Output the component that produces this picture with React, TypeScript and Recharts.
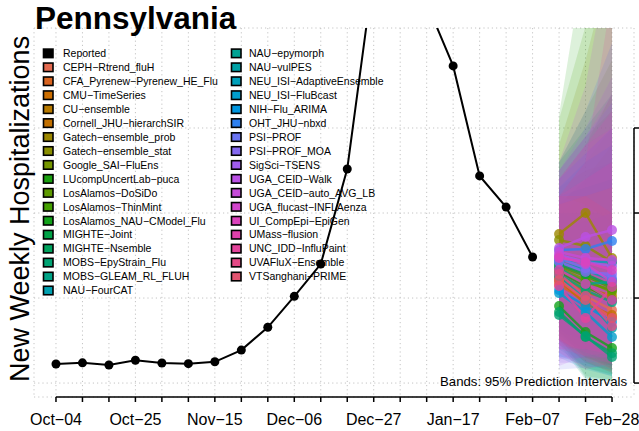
import React from 'react';
import { ComposedChart, Line, Area, XAxis, YAxis, CartesianGrid, ReferenceLine } from 'recharts';

const FONT = '"Liberation Sans", Arial, Helvetica, sans-serif';

const weeks = [
  'Oct−04', 'Oct−11', 'Oct−18', 'Oct−25', 'Nov−01', 'Nov−08', 'Nov−15', 'Nov−22', 'Nov−29',
  'Dec−06', 'Dec−13', 'Dec−20', 'Dec−27', 'Jan−03', 'Jan−10', 'Jan−17', 'Jan−24', 'Jan−31',
  'Feb−07', 'Feb−14', 'Feb−21', 'Feb−28',
];

const reported = [112, 119, 106, 134, 118, 114, 125, 194, 328, 510, 700, 1259, 2420, 2750, 2235, 1865, 1218, 1035, 741];

const models = [
  'CEPH−Rtrend_fluH', 'CFA_Pyrenew−Pyrenew_HE_Flu', 'CMU−TimeSeries', 'CU−ensemble',
  'Cornell_JHU−hierarchSIR', 'Gatech−ensemble_prob', 'Gatech−ensemble_stat', 'Google_SAI−FluEns',
  'LUcompUncertLab−puca', 'LosAlamos−DoSiDo', 'LosAlamos−ThinMint', 'LosAlamos_NAU−CModel_Flu',
  'MIGHTE−Joint', 'MIGHTE−Nsemble', 'MOBS−EpyStrain_Flu', 'MOBS−GLEAM_RL_FLUH', 'NAU−FourCAT',
  'NAU−epymorph', 'NAU−vulPES', 'NEU_ISI−AdaptiveEnsemble', 'NEU_ISI−FluBcast', 'NIH−Flu_ARIMA',
  'OHT_JHU−nbxd', 'PSI−PROF', 'PSI−PROF_MOA', 'SigSci−TSENS', 'UGA_CEID−Walk',
  'UGA_CEID−auto_AVG_LB', 'UGA_flucast−INFLAenza', 'UI_CompEpi−EpiGen', 'UMass−flusion',
  'UNC_IDD−InfluPaint', 'UVAFluX−Ensemble', 'VTSanghani−PRIME',
];

const palette = [
  '#E36A50', '#D96420', '#CC6E00', '#B87A00', '#C27000', '#9C8700', '#8A8F00', '#769700',
  '#1AA010', '#5E9A00', '#44A000', '#12A21A', '#00A347', '#00A35E', '#00A373', '#00A386',
  '#00A0B0', '#00A293', '#00A1A6', '#00A0BA', '#009DCC', '#0096DF', '#2E80F0', '#6A74F2',
  '#8468F0', '#A05CEE', '#BA50E4', '#C64BD9', '#D245CC', '#DB42BC', '#E140AC', '#E3449A',
  '#E44A86', '#E25470',
];

const forecastWeeks = [19, 20, 21];

const medianH1 = [594, 576, 618, 629, 606, 876, 841, 676, 653, 665, 688, 453, 700, 418, 400, 641, 712, 676, 629, 724, 529, 547, 782, 735, 712, 753, 794, 771, 747, 735, 665, 571, 641, 606];
const medianH2 = [512, 488, 535, 559, 465, 1000, 806, 606, 571, 594, 629, 300, 641, 271, 276, 547, 665, 582, 500, 712, 418, 453, 788, 676, 653, 712, 859, 735, 700, 712, 582, 382, 512, 488];
const medianH3 = [429, 382, 488, 512, 400, 735, 712, 535, 488, 547, 559, 206, 571, 176, 153, 476, 606, 594, 324, 712, 271, 359, 835, 618, 641, 688, 900, 724, 594, 665, 488, 565, 335, 382];

const lowerH1 = [300, 280, 350, 300, 250, 450, 500, 260, 230, 300, 260, 280, 320, 250, 230, 250, 350, 280, 200, 300, 150, 160, 150, 80, 120, 140, 100, 200, 250, 220, 200, 180, 250, 260];
const lowerH2 = [200, 160, 250, 180, 120, 400, 420, 120, 90, 150, 150, 40, 200, 30, 20, 150, 250, 160, 90, 250, 80, 100, 150, 90, 120, 150, 160, 200, 180, 200, 160, 80, 130, 150];
const lowerH3 = [120, 80, 180, 100, 60, 250, 320, 70, 50, 90, 100, 20, 150, 15, 10, 100, 200, 120, 40, 200, 40, 80, 150, 100, 130, 150, 180, 170, 130, 160, 110, 120, 60, 80];

const upperH1 = [1000, 950, 1050, 1100, 1150, 1400, 1250, 1300, 1576, 1200, 1550, 1000, 1300, 900, 850, 1100, 1200, 1150, 1100, 1150, 1000, 900, 1300, 1250, 1200, 1250, 1300, 1250, 1200, 1200, 1100, 1100, 1100, 1050];
const upperH2 = [1100, 1050, 1200, 1300, 1250, 1900, 1450, 1600, 2540, 1400, 2100, 1000, 1500, 800, 750, 1150, 1350, 1300, 1050, 1300, 950, 950, 1600, 1450, 1350, 1500, 1750, 1450, 1400, 1400, 1200, 1300, 1100, 1100];
const upperH3 = [1200, 1150, 1400, 1500, 1300, 2500, 1600, 1900, 3300, 1700, 2900, 1000, 1700, 750, 700, 1200, 1500, 1400, 950, 1400, 850, 1000, 2000, 1650, 1500, 1800, 2600, 1700, 1500, 1600, 1300, 2300, 1000, 1150];

const Y_MIN = -82;
const Y_MAX = 2088;
const X_MIN = -0.83;
const X_MAX = 21.83;
const yTicks = [0, 500, 1000, 1500];

const reportedRows = reported.map((v, i) => ({ x: i, value: v }));
const med = [medianH1, medianH2, medianH3];
const lo = [lowerH1, lowerH2, lowerH3];
const hi = [upperH1, upperH2, upperH3];
const modelRows = models.map((_, m) =>
  forecastWeeks.map((x, h) => ({ x, med: med[h][m], band: [lo[h][m], hi[h][m]] }))
);

const ROW0 = 53.3;
const ROW_STEP = 13.95;
const col1 = [{ name: 'Reported', color: '#000000' }].concat(
  models.slice(0, 17).map((n, i) => ({ name: n, color: palette[i] }))
);
const col2 = models.slice(17).map((n, i) => ({ name: n, color: palette[i + 17] }));

function LegendColumn({ items, boxX, textX }: { items: { name: string; color: string }[]; boxX: number; textX: number }) {
  return (
    <g>
      {items.map((it, i) => {
        const cy = ROW0 + i * ROW_STEP;
        return (
          <g key={it.name}>
            <rect x={boxX} y={cy - 4.2} width={9.5} height={8.5} fill={it.color} stroke="#000" strokeWidth={1.6} />
            <text x={textX} y={cy + 3.8} fontSize={10.5} fontFamily={FONT} fill="#000">
              {it.name}
            </text>
          </g>
        );
      })}
    </g>
  );
}

const EmptyTick = () => <g />;

export default function App() {
  return (
    <div style={{ position: 'absolute', left: 0, top: 0, width: 639, height: 431, background: '#fff', overflow: 'hidden' }}>
      <ComposedChart width={639} height={431} margin={{ top: 28, right: 0, bottom: 0, left: 34 }}>
        <CartesianGrid stroke="#c4c4c4" strokeDasharray="1.2 3" strokeWidth={1} />
        <XAxis
          type="number"
          dataKey="x"
          domain={[X_MIN, X_MAX]}
          allowDataOverflow
          ticks={weeks.map((_, i) => i)}
          interval={0}
          tickFormatter={(v: number) => (v % 3 === 0 ? weeks[v] : '')}
          axisLine={false}
          tickLine={{ stroke: '#000', strokeWidth: 1.5 }}
          tickSize={5}
          tickMargin={12}
          height={34}
          tick={{ fill: '#000', fontSize: 16, fontFamily: FONT }}
        />
        <YAxis
          orientation="right"
          type="number"
          domain={[Y_MIN, Y_MAX]}
          allowDataOverflow
          ticks={yTicks}
          interval={0}
          width={5}
          axisLine={false}
          tickLine={{ stroke: '#000', strokeWidth: 1.5 }}
          tickSize={5}
          tick={EmptyTick}
        />
        {models.map((name, m) => (
          <Area
            key={'band-' + name}
            data={modelRows[m]}
            dataKey="band"
            type="linear"
            stroke="none"
            fill={palette[m]}
            fillOpacity={0.15}
            dot={false}
            activeDot={false}
            isAnimationActive={false}
          />
        ))}
        <Line
          data={reportedRows}
          dataKey="value"
          type="linear"
          stroke="#000"
          strokeWidth={2}
          dot={{ r: 4.5, fill: '#000', stroke: '#000', strokeWidth: 0 }}
          activeDot={false}
          isAnimationActive={false}
        />
        {models.map((name, m) => (
          <Line
            key={'med-' + name}
            data={modelRows[m]}
            dataKey="med"
            type="linear"
            stroke={palette[m]}
            strokeOpacity={0.8}
            strokeWidth={2.5}
            dot={{ r: 5, fill: palette[m], fillOpacity: 0.8, stroke: 'none' }}
            activeDot={false}
            isAnimationActive={false}
          />
        ))}
        <ReferenceLine
          segment={[{ x: 0, y: Y_MIN }, { x: 21, y: Y_MIN }]}
          stroke="#000"
          strokeWidth={1.5}
          ifOverflow="visible"
        />
        <ReferenceLine
          segment={[{ x: X_MAX, y: 0 }, { x: X_MAX, y: 1500 }]}
          stroke="#000"
          strokeWidth={1.5}
          ifOverflow="visible"
        />
      </ComposedChart>
      <svg width={639} height={431} style={{ position: 'absolute', left: 0, top: 0, pointerEvents: 'none' }}>
        <text x={35} y={29} fontSize={31.5} fontWeight="bold" fontFamily={FONT} fill="#000">
          Pennsylvania
        </text>
        <text
          x={0}
          y={0}
          transform="translate(29,382) rotate(-90)"
          textAnchor="start"
          fontSize={27}
          fontFamily={FONT}
          fill="#000"
        >
          New Weekly Hospitalizations
        </text>
        <LegendColumn items={col1} boxX={43.5} textX={63} />
        <LegendColumn items={col2} boxX={231.5} textX={249} />
        <text x={627} y={386} textAnchor="end" fontSize={13.2} fontFamily={FONT} fill="#000">
          Bands: 95% Prediction Intervals
        </text>
      </svg>
    </div>
  );
}
